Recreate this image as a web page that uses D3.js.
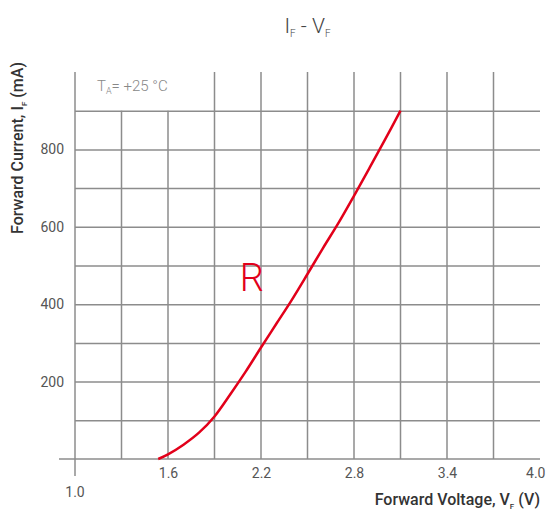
<!DOCTYPE html>
<html lang="en">
<head>
    <meta charset="UTF-8">
    <script src="https://d3js.org/d3.v7.min.js"></script>
    <title>IF - VF</title>
    <style>
        body { margin: 0; background: #fff; }
        text { font-family: Roboto, "DejaVu Sans", sans-serif; }
    </style>
</head>
<body>
    <script>
        // forward voltage (V) / forward current (mA)
        const voltage = [1.537, 1.6, 1.7, 1.8, 1.9, 2.0, 2.1, 2.2, 2.3, 2.4, 2.5, 2.6, 2.7, 2.8, 2.9, 3.0, 3.1];
        const current = [0, 12, 37, 68, 110, 166, 225, 288, 350, 412, 478, 545, 610, 680, 752, 825, 900];

        const vGrid = [1.3, 1.6, 1.9, 2.2, 2.5, 2.8, 3.1, 3.4, 3.7];
        const iGrid = [100, 200, 300, 400, 500, 600, 700, 800, 900];
        const vTicks = [1.6, 2.2, 2.8, 3.4, 4.0];
        const iTicks = [200, 400, 600, 800];

        const W = 547, H = 510;
        const gridColor = "#8c8c8c";
        const red = "#e2001a";

        const x = d3.scaleLinear().domain([1.0, 4.0]).range([75, 540]);
        const y = d3.scaleLinear().domain([0, 1000]).range([459, 72]);

        const svg = d3.select("body").append("svg")
            .attr("width", W)
            .attr("height", H);

        // horizontal gridlines + y labels
        const yAxis = svg.append("g")
            .attr("transform", `translate(${x(1.0)},0)`)
            .call(d3.axisLeft(y)
                .tickValues(iGrid)
                .tickSize(-(x(4.0) - x(1.0)))
                .tickPadding(11)
                .tickFormat(d => iTicks.includes(d) ? d : ""));
        yAxis.select(".domain").remove();
        yAxis.selectAll(".tick line").attr("stroke", gridColor).attr("stroke-width", 1.5);
        yAxis.selectAll(".tick text")
            .attr("fill", "#555").attr("font-size", 14);

        // vertical gridlines (first two stop below the temperature note)
        svg.append("g").selectAll("line")
            .data(vGrid)
            .join("line")
            .attr("x1", d => x(d)).attr("x2", d => x(d))
            .attr("y1", d => d < 1.7 ? y(900) : y(1000))
            .attr("y2", y(0))
            .attr("stroke", gridColor)
            .attr("stroke-width", 1.5);

        // axes lines
        svg.append("line")
            .attr("x1", x(1.0)).attr("x2", x(1.0))
            .attr("y1", y(1000)).attr("y2", y(0) + 17)
            .attr("stroke", gridColor).attr("stroke-width", 1.5);
        svg.append("line")
            .attr("x1", x(1.0) - 16).attr("x2", x(4.0))
            .attr("y1", y(0)).attr("y2", y(0))
            .attr("stroke", gridColor).attr("stroke-width", 1.5);

        // x labels
        const xAxis = svg.append("g")
            .attr("transform", `translate(0,${y(0)})`)
            .call(d3.axisBottom(x)
                .tickValues(vTicks)
                .tickSize(0)
                .tickPadding(9)
                .tickFormat(d3.format(".1f")));
        xAxis.select(".domain").remove();
        xAxis.selectAll(".tick text")
            .attr("fill", "#555").attr("font-size", 14)
            .filter(d => d === 4.0)
            .attr("text-anchor", "end")
            .attr("dx", 5);

        svg.append("text")
            .attr("x", x(1.0)).attr("y", 497)
            .attr("text-anchor", "middle")
            .attr("fill", "#555").attr("font-size", 14)
            .text("1.0");

        // curve
        const line = d3.line()
            .x(d => x(d[0]))
            .y(d => y(d[1]))
            .curve(d3.curveCatmullRom);
        svg.append("path")
            .datum(voltage.map((v, i) => [v, current[i]]))
            .attr("d", line)
            .attr("fill", "none")
            .attr("stroke", red)
            .attr("stroke-width", 2.5);

        svg.append("text")
            .attr("x", x(2.14)).attr("y", y(434))
            .attr("text-anchor", "middle")
            .attr("fill", red)
            .attr("font-size", 38)
            .attr("font-weight", 300)
            .text("R");

        // temperature note
        const ta = svg.append("text")
            .attr("x", 97).attr("y", 91)
            .attr("fill", "#888").attr("font-size", 15).attr("font-weight", 300);
        ta.append("tspan").text("T");
        ta.append("tspan").attr("font-size", 9).attr("dy", 3).text("A");
        ta.append("tspan").attr("dy", -3).text("= +25 °C");

        // title
        const title = svg.append("text")
            .attr("x", (x(1.0) + x(4.0)) / 2).attr("y", 33)
            .attr("text-anchor", "middle")
            .attr("fill", "#444").attr("font-size", 21).attr("font-weight", 300);
        title.append("tspan").text("I");
        title.append("tspan").attr("font-size", 10).attr("dy", 4).text("F");
        title.append("tspan").attr("dy", -4).text(" - V");
        title.append("tspan").attr("font-size", 10).attr("dy", 4).text("F");

        // x title
        const xt = svg.append("text")
            .attr("x", 540).attr("y", 505)
            .attr("text-anchor", "end")
            .attr("fill", "#333").attr("font-size", 16).attr("font-weight", 500);
        xt.append("tspan").text("Forward Voltage, V");
        xt.append("tspan").attr("font-size", 8).attr("dy", 4).text("F");
        xt.append("tspan").attr("dy", -4).text("  (V)");

        // y title
        const yt = svg.append("text")
            .attr("transform", "translate(23,62) rotate(-90)")
            .attr("text-anchor", "end")
            .attr("fill", "#333").attr("font-size", 16).attr("font-weight", 500);
        yt.append("tspan").text("Forward Current,  I");
        yt.append("tspan").attr("font-size", 8).attr("dy", 4).text("F");
        yt.append("tspan").attr("dy", -4).text(" (mA)");
    </script>
</body>
</html>
